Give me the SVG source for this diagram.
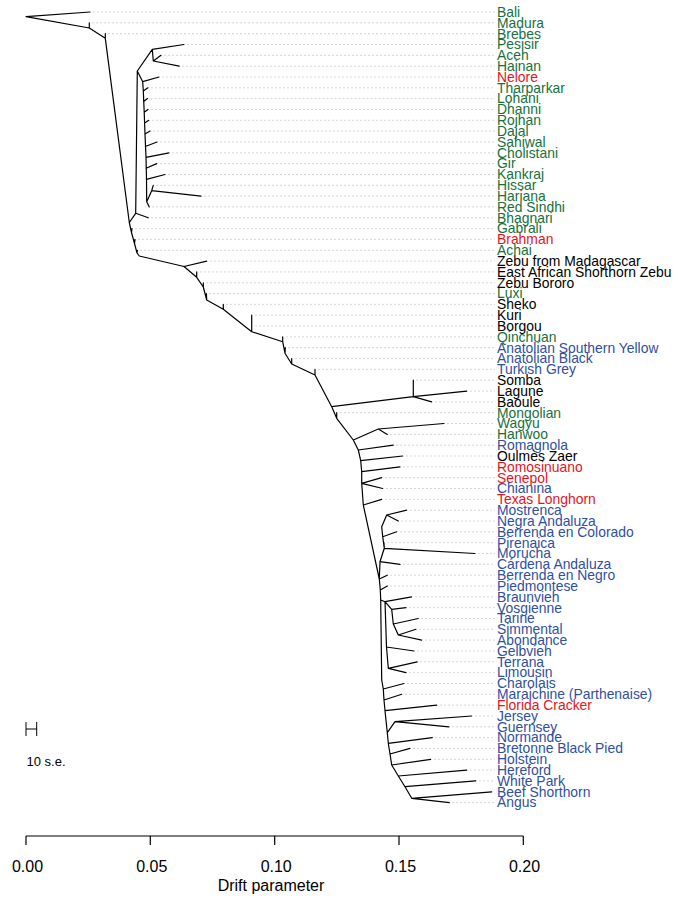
<svg xmlns="http://www.w3.org/2000/svg" width="680" height="898" viewBox="0 0 680 898">
<style>
.e{fill:none;stroke:#000;stroke-width:1.2;stroke-linejoin:round;stroke-linecap:round}
.d{stroke:#d2d2d2;stroke-width:0.9;stroke-dasharray:2 2}
text{font-family:"Liberation Sans",Arial,sans-serif}
.l{font-size:13.9px}
.g{fill:#17703c}.r{fill:#e8121c}.b{fill:#2f4fa0}.k{fill:#000}
.ax{font-size:16px;text-anchor:middle;fill:#000}
</style>
<rect width="680" height="898" fill="#fff"/>
<g id="guides">
<path class="d" d="M93 12H495M92 22.8H495M108 33.7H495M187 44.5H495M164 55.3H495M182 66.2H495M162 77H495M151 87.8H495M150.5 98.6H495M151 109.5H495M152 120.3H495M153 131.1H495M160 142H495M172 152.8H495M160 163.6H495M168 174.5H495M156 185.3H495M204 196.1H495M152 206.9H495M151 217.8H495M135 228.6H495M138 239.4H495M140 250.3H495M210 261.1H495M200 271.9H495M206 282.8H495M209 293.6H495M226 304.4H495M255 315.2H495M255 326.1H495M286 336.9H495M288 347.7H495M295 358.6H495M318 369.4H495M416 380.2H495M470 391.1H495M435 401.9H495M340 412.7H495M447 423.5H495M390 434.4H495M396 445.2H495M406 456H495M403 466.9H495M385 477.7H495M386 488.5H495M385 499.4H495M410 510.2H495M401 521H495M400 531.8H495M387 542.7H495M478 553.5H495M403 564.3H495M390 575.2H495M390 586H495M415 596.8H495M409 607.7H495M421 618.5H495M419 629.3H495M425 640.1H495M417 651H495M420 661.8H495M409 672.6H495M407 683.5H495M405 694.3H495M440 705.1H495M475 716H495M452 726.8H495M435 737.6H495M413 748.4H495M434 759.3H495M470 770.1H495M479 780.9H495M452 802.6H495"/>
</g>
<g id="edges">
<path class="e" d="M90 12L26 16.7L89.3 28L89.3 22.8M89.3 28L105.3 38.3L105.3 33.7M105.3 38.3L129.3 222.5
M137.3 71L152.3 49.3L184 44.5M152.3 49.3L153.3 61L161 55.3M153.3 61L179.3 66.2
M137.3 71L142.7 81.7L159 77M137.3 71L135.7 213.3L148.3 217.8M135.7 213.3L129.3 222.5
M142.7 81.7L143.3 91L144.2 112.3L145 134L146 157.3L146.5 179.3L146.7 201.7L149.3 206.9M146.7 201.7L151.7 190.7L153.3 185.3M151.7 190.7L201 196.1
M143.3 91L148 87.8M143.7 101.5L147.5 98.6M144.2 112.3L148 109.5M144.6 123L148.8 120.3M145 134L150 131.1M145.3 146.5L157 142M146 157.3L169 152.8M146 168.3L156.7 163.6M146.5 179.3L165 174.5
M129.3 222.5L131.5 232.5L134.5 243.5L137 253L139.3 256L184 266.5L206.7 261.1M131.5 232.5L132 228.6M134.5 243.5L135 239.4M137 253L137.5 250.3
M184 266.5L196.7 277.3L196.7 271.9M196.7 277.3L203.3 287L203.3 282.8M203.3 287L206.7 300L206.4 293.6M206.7 300L223.3 309.3L223.3 304.4M223.3 309.3L251.7 331.7L251.7 315.2M251.7 331.7L282.7 341.7L282.7 336.9M282.7 341.7L285 353.3L285.3 347.7M285 353.3L291.7 364L291.7 358.6M291.7 364L315 375L315 369.4
M315 375L331.7 406.7L413.3 396.7L413.3 380.2M413.3 396.7L466.7 391.1M413.3 396.7L431.7 401.9
M331.7 406.7L336.7 418.3L336.7 412.7M336.7 418.3L353.3 440L378.3 429L444 423.5M378.3 429L387.3 434.4M353.3 440L358.3 450L393.3 445.2M358.3 450L360.7 460.7L402.7 456M360.7 460.7L361.7 471.7L400 466.9M361.7 471.7L361.7 483.3L381.7 477.7M361.7 483.3L382.7 488.5M361.7 483.3L363.3 505L381.7 499.4M363.3 505L379.3 579L387.3 575.2
M379.3 579L380 561.7L400 564.3M380 561.7L384.3 548.3L475 553.5M384.3 548.3L384 542.7M384.3 548.3L382.7 536.7L396.7 531.8M382.7 536.7L381.7 526.7L386.7 515L406.7 510.2M386.7 515L398.3 521
M379.3 579L380.3 590L387.3 586M380.3 590L380.7 600L385 601.7L411.7 596.8M385 601.7L391.7 609.3L406 607.7M391.7 609.3L393.3 624L418.3 618.5M393.3 624L398.3 635L416 629.3M398.3 635L421.7 640.1M385 601.7L386.5 647L414 651M386.5 647L388.3 668.3L417.3 661.8M388.3 668.3L406 672.6
M380.7 600L381.7 680L383.3 689L404 683.5M383.3 689L384 700L401.7 694.3M384 700L385 710.7L436.7 705.1M385 710.7L387.3 732.7L395 721.7L471.7 716M395 721.7L449 726.8M387.3 732.7L388.3 743.3L432.3 737.6M388.3 743.3L390 754L410 748.4M390 754L391.7 765L430.7 759.3M391.7 765L398.3 776L466.7 770.1M398.3 776L405 786.7L475.7 780.9M405 786.7L411.7 798.3L491.7 791.8M411.7 798.3L449.3 802.6"/>
</g>
<g id="leaves" class="l">
<g id="n0"><text class="g" x="497" y="16.8">Bali</text></g>
<g id="n1"><text class="g" x="497" y="27.6">Madura</text></g>
<g id="n2"><text class="g" x="497" y="38.5">Brebes</text></g>
<g id="n3"><text class="g" x="497" y="49.3">Pesisir</text></g>
<g id="n4"><text class="g" x="497" y="60.1">Aceh</text></g>
<g id="n5"><text class="g" x="497" y="71">Hainan</text></g>
<g id="n6"><text class="r" x="497" y="81.8">Nelore</text></g>
<g id="n7"><text class="g" x="497" y="92.6">Tharparkar</text></g>
<g id="n8"><text class="g" x="497" y="103.4">Lohani</text></g>
<g id="n9"><text class="g" x="497" y="114.3">Dhanni</text></g>
<g id="n10"><text class="g" x="497" y="125.1">Rojhan</text></g>
<g id="n11"><text class="g" x="497" y="135.9">Dajal</text></g>
<g id="n12"><text class="g" x="497" y="146.8">Sahiwal</text></g>
<g id="n13"><text class="g" x="497" y="157.6">Cholistani</text></g>
<g id="n14"><text class="g" x="497" y="168.4">Gir</text></g>
<g id="n15"><text class="g" x="497" y="179.3">Kankraj</text></g>
<g id="n16"><text class="g" x="497" y="190.1">Hissar</text></g>
<g id="n17"><text class="g" x="497" y="200.9">Hariana</text></g>
<g id="n18"><text class="g" x="497" y="211.7">Red Sindhi</text></g>
<g id="n19"><text class="g" x="497" y="222.6">Bhagnari</text></g>
<g id="n20"><text class="g" x="497" y="233.4">Gabrali</text></g>
<g id="n21"><text class="r" x="497" y="244.2">Brahman</text></g>
<g id="n22"><text class="g" x="497" y="255.1">Achai</text></g>
<g id="n23"><text class="k" x="497" y="265.9">Zebu from Madagascar</text></g>
<g id="n24"><text class="k" x="497" y="276.7">East African Shorthorn Zebu</text></g>
<g id="n25"><text class="k" x="497" y="287.6">Zebu Bororo</text></g>
<g id="n26"><text class="g" x="497" y="298.4">Luxi</text></g>
<g id="n27"><text class="k" x="497" y="309.2">Sheko</text></g>
<g id="n28"><text class="k" x="497" y="320">Kuri</text></g>
<g id="n29"><text class="k" x="497" y="330.9">Borgou</text></g>
<g id="n30"><text class="g" x="497" y="341.7">Qinchuan</text></g>
<g id="n31"><text class="b" x="497" y="352.5">Anatolian Southern Yellow</text></g>
<g id="n32"><text class="b" x="497" y="363.4">Anatolian Black</text></g>
<g id="n33"><text class="b" x="497" y="374.2">Turkish Grey</text></g>
<g id="n34"><text class="k" x="497" y="385">Somba</text></g>
<g id="n35"><text class="k" x="497" y="395.9">Lagune</text></g>
<g id="n36"><text class="k" x="497" y="406.7">Baoule</text></g>
<g id="n37"><text class="g" x="497" y="417.5">Mongolian</text></g>
<g id="n38"><text class="g" x="497" y="428.3">Wagyu</text></g>
<g id="n39"><text class="g" x="497" y="439.2">Hanwoo</text></g>
<g id="n40"><text class="b" x="497" y="450">Romagnola</text></g>
<g id="n41"><text class="k" x="497" y="460.8">Oulmès Zaer</text></g>
<g id="n42"><text class="r" x="497" y="471.7">Romosinuano</text></g>
<g id="n43"><text class="r" x="497" y="482.5">Senepol</text></g>
<g id="n44"><text class="b" x="497" y="493.3">Chianina</text></g>
<g id="n45"><text class="r" x="497" y="504.2">Texas Longhorn</text></g>
<g id="n46"><text class="b" x="497" y="515">Mostrenca</text></g>
<g id="n47"><text class="b" x="497" y="525.8">Negra Andaluza</text></g>
<g id="n48"><text class="b" x="497" y="536.6">Berrenda en Colorado</text></g>
<g id="n49"><text class="b" x="497" y="547.5">Pirenaica</text></g>
<g id="n50"><text class="b" x="497" y="558.3">Morucha</text></g>
<g id="n51"><text class="b" x="497" y="569.1">Cárdena Andaluza</text></g>
<g id="n52"><text class="b" x="497" y="580">Berrenda en Negro</text></g>
<g id="n53"><text class="b" x="497" y="590.8">Piedmontese</text></g>
<g id="n54"><text class="b" x="497" y="601.6">Braunvieh</text></g>
<g id="n55"><text class="b" x="497" y="612.5">Vosgienne</text></g>
<g id="n56"><text class="b" x="497" y="623.3">Tarine</text></g>
<g id="n57"><text class="b" x="497" y="634.1">Simmental</text></g>
<g id="n58"><text class="b" x="497" y="644.9">Abondance</text></g>
<g id="n59"><text class="b" x="497" y="655.8">Gelbvieh</text></g>
<g id="n60"><text class="b" x="497" y="666.6">Terrana</text></g>
<g id="n61"><text class="b" x="497" y="677.4">Limousin</text></g>
<g id="n62"><text class="b" x="497" y="688.3">Charolais</text></g>
<g id="n63"><text class="b" x="497" y="699.1">Maraichine (Parthenaise)</text></g>
<g id="n64"><text class="r" x="497" y="709.9">Florida Cracker</text></g>
<g id="n65"><text class="b" x="497" y="720.8">Jersey</text></g>
<g id="n66"><text class="b" x="497" y="731.6">Guernsey</text></g>
<g id="n67"><text class="b" x="497" y="742.4">Normande</text></g>
<g id="n68"><text class="b" x="497" y="753.2">Bretonne Black Pied</text></g>
<g id="n69"><text class="b" x="497" y="764.1">Holstein</text></g>
<g id="n70"><text class="b" x="497" y="774.9">Hereford</text></g>
<g id="n71"><text class="b" x="497" y="785.7">White Park</text></g>
<g id="n72"><text class="b" x="497" y="796.6">Beef Shorthorn</text></g>
<g id="n73"><text class="b" x="497" y="807.4">Angus</text></g>
</g>
<g id="scalebar">
<path d="M26 722V736M36.7 722V736M26 729H36.7" fill="none" stroke="#000" stroke-width="1"/>
<text x="26.5" y="766" font-size="13px" fill="#000">10 s.e.</text>
</g>
<g id="axis">
<path d="M26 836H523.3M26 836V845M150.3 836V845M274.7 836V845M399 836V845M523.3 836V845" fill="none" stroke="#000" stroke-width="1.2"/>
<text class="ax" x="27.5" y="872">0.00</text>
<text class="ax" x="151.8" y="872">0.05</text>
<text class="ax" x="276.2" y="872">0.10</text>
<text class="ax" x="400.5" y="872">0.15</text>
<text class="ax" x="524.5" y="872">0.20</text>
<text class="ax" x="271" y="891">Drift parameter</text>
</g>
</svg>
